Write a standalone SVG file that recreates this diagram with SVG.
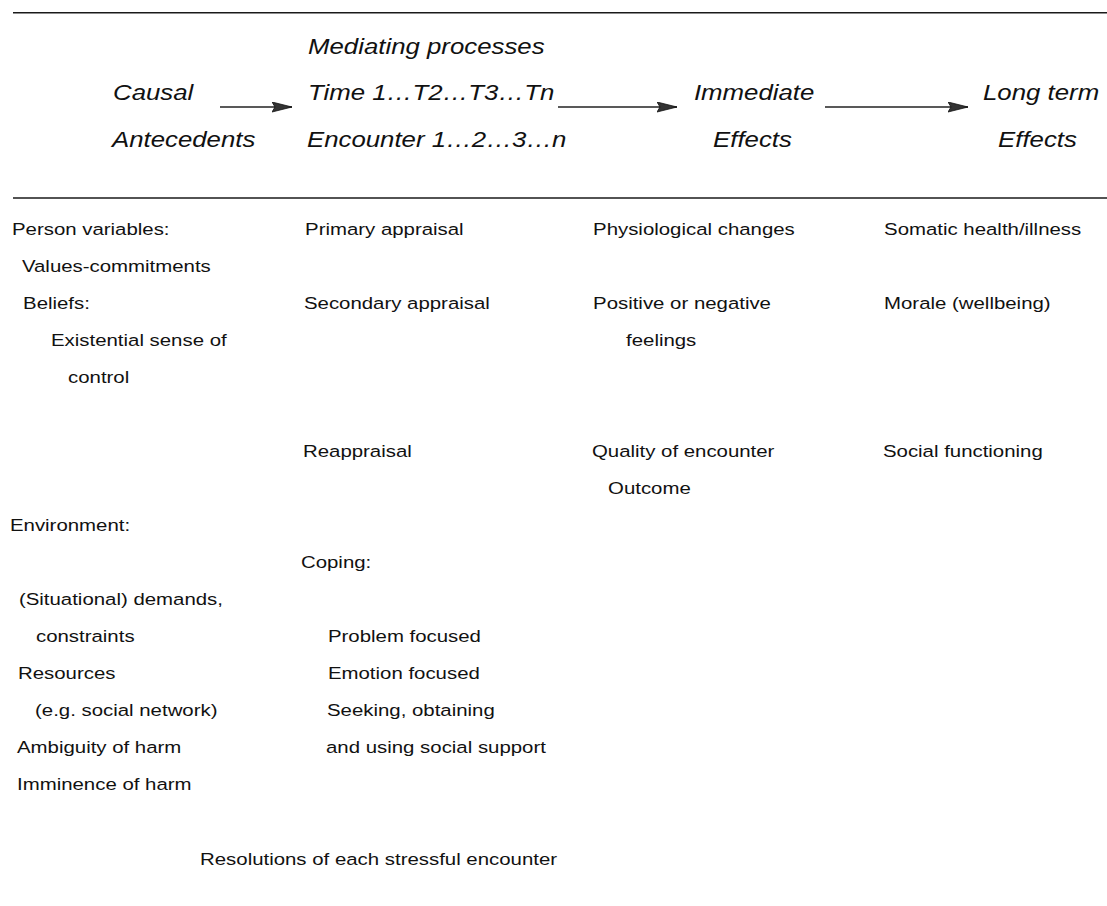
<svg xmlns="http://www.w3.org/2000/svg" width="1107" height="906" viewBox="0 0 1107 906">
  <defs>
    <style>
      .hd { font-family: "Liberation Sans", Arial, sans-serif; font-style: italic; font-size: 21.5px; fill: #111; }
      .tx { font-family: "Liberation Sans", Arial, sans-serif; font-size: 17px; fill: #111; }
      .rule { stroke: #1a1a1a; stroke-width: 1.5; fill: none; }
      .conn { stroke: #222; stroke-width: 1.3; fill: none; marker-end: url(#head); }
    </style>
    <marker id="head" markerUnits="userSpaceOnUse" markerWidth="22" markerHeight="12" refX="20" refY="5" orient="auto">
      <path d="M0,0 L20,5 L0,10 L3,5 Z" fill="#333" stroke="#111" stroke-width="0.8"/>
    </marker>
  </defs>

  <rect width="1107" height="906" fill="#fff"/>

  <!-- table rules above and below the stage headings -->
  <g id="rules">
    <line class="rule" x1="13" y1="12.7" x2="1107" y2="12.7"/>
    <line class="rule" x1="13" y1="198" x2="1107" y2="198"/>
  </g>

  <!-- arrows between the stage headings -->
  <g id="connectors">
    <line class="conn" x1="220" y1="107" x2="292" y2="107"/>
    <line class="conn" x1="558" y1="107" x2="677" y2="107"/>
    <line class="conn" x1="825" y1="107" x2="968" y2="107"/>
  </g>

  <!-- text is set slightly wide: x values are divided by the 1.2 horizontal scale -->
  <g id="labels" transform="scale(1.2 1)">
    <g id="stage-causal">
      <text class="hd" x="94.2" y="100">Causal</text>
      <text class="hd" x="93.3" y="147">Antecedents</text>
    </g>
    <g id="stage-mediating">
      <text class="hd" x="256.7" y="54">Mediating processes</text>
      <text class="hd" x="256.7" y="100">Time 1…T2…T3…Tn</text>
      <text class="hd" x="255.8" y="147">Encounter 1…2…3…n</text>
    </g>
    <g id="stage-immediate">
      <text class="hd" x="578.3" y="100">Immediate</text>
      <text class="hd" x="594.2" y="147">Effects</text>
    </g>
    <g id="stage-longterm">
      <text class="hd" x="819.2" y="100">Long term</text>
      <text class="hd" x="831.7" y="147">Effects</text>
    </g>

    <g id="col-antecedents">
      <text class="tx" x="10" y="235">Person variables:</text>
      <text class="tx" x="18.3" y="272">Values-commitments</text>
      <text class="tx" x="19.2" y="309">Beliefs:</text>
      <text class="tx" x="42.5" y="346">Existential sense of</text>
      <text class="tx" x="56.7" y="383">control</text>
      <text class="tx" x="8.3" y="531">Environment:</text>
      <text class="tx" x="15.8" y="605">(Situational) demands,</text>
      <text class="tx" x="30" y="642">constraints</text>
      <text class="tx" x="15" y="679">Resources</text>
      <text class="tx" x="29.2" y="716">(e.g. social network)</text>
      <text class="tx" x="14.2" y="753">Ambiguity of harm</text>
      <text class="tx" x="14.2" y="790">Imminence of harm</text>
    </g>

    <g id="col-mediating">
      <text class="tx" x="254.2" y="235">Primary appraisal</text>
      <text class="tx" x="253.3" y="309">Secondary appraisal</text>
      <text class="tx" x="252.5" y="457">Reappraisal</text>
      <text class="tx" x="250.8" y="568">Coping:</text>
      <text class="tx" x="273.3" y="642">Problem focused</text>
      <text class="tx" x="273.3" y="679">Emotion focused</text>
      <text class="tx" x="272.5" y="716">Seeking, obtaining</text>
      <text class="tx" x="271.7" y="753">and using social support</text>
    </g>

    <g id="col-immediate">
      <text class="tx" x="494.2" y="235">Physiological changes</text>
      <text class="tx" x="494.2" y="309">Positive or negative</text>
      <text class="tx" x="521.7" y="346">feelings</text>
      <text class="tx" x="493.3" y="457">Quality of encounter</text>
      <text class="tx" x="506.7" y="494">Outcome</text>
    </g>

    <g id="col-longterm">
      <text class="tx" x="736.7" y="235">Somatic health/illness</text>
      <text class="tx" x="736.7" y="309">Morale (wellbeing)</text>
      <text class="tx" x="735.8" y="457">Social functioning</text>
    </g>

    <g id="resolutions">
      <text class="tx" x="166.7" y="865">Resolutions of each stressful encounter</text>
    </g>
  </g>
</svg>
